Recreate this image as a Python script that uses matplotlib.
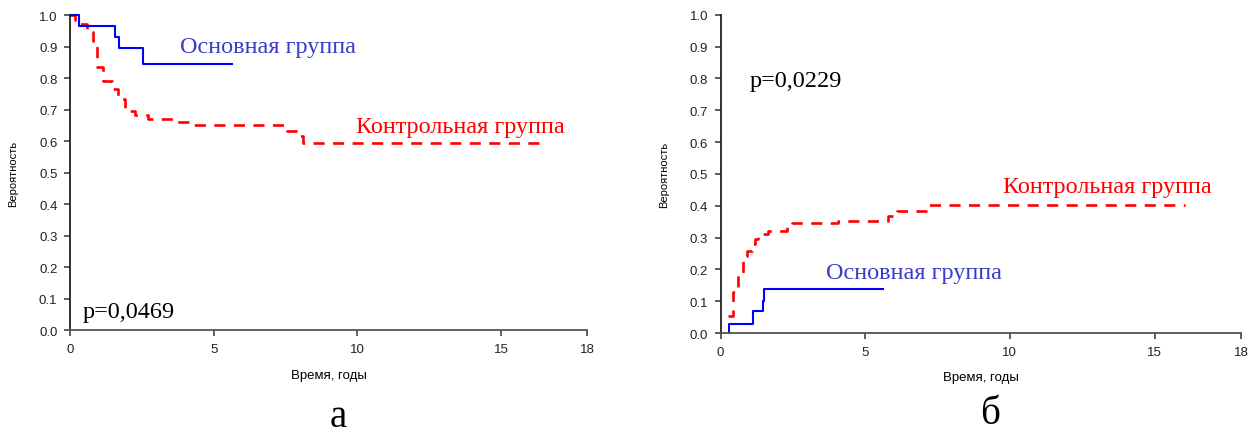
import numpy as np
import matplotlib
matplotlib.use('Agg')
import matplotlib.pyplot as plt

# Кривые Каплана-Мейера, панель а (выживаемость)
a_main_t = [0, 0.31, 1.57, 1.72, 2.55, 5.63]
a_main_s = [1.0, 0.964, 0.931, 0.896, 0.845, 0.845]
a_ctrl_t = [0, 0.17, 0.29, 0.58, 0.81, 0.93, 1.16, 1.45, 1.68, 1.91, 2.26, 2.73,
            3.6, 4.3, 7.54, 7.95, 8.12, 16.36]
a_ctrl_s = [1.0, 0.985, 0.971, 0.945, 0.919, 0.834, 0.792, 0.765, 0.734, 0.697, 0.683, 0.672,
            0.662, 0.651, 0.633, 0.617, 0.594, 0.594]

# Панель б (кумулятивная частота событий)
b_main_t = [0.29, 0.29, 1.13, 1.46, 1.51, 5.62]
b_main_s = [0.0, 0.03, 0.07, 0.101, 0.138, 0.138]
b_ctrl_t = [0.27, 0.44, 0.61, 0.79, 0.9, 1.08, 1.19, 1.31, 1.65, 2.29, 2.46,
            4.07, 5.8, 6.09, 7.18, 16.04]
b_ctrl_s = [0.054, 0.128, 0.19, 0.243, 0.259, 0.28, 0.295, 0.311, 0.321, 0.332, 0.345,
            0.353, 0.368, 0.384, 0.403, 0.403]

x_ticks = [0, 5, 10, 15, 18]
y_ticks = np.round(np.arange(0, 1.01, 0.1), 1)

sans = 'Liberation Sans'
serif = 'Liberation Serif'
blue_txt = '#3c3cc8'

fig = plt.figure(figsize=(12.56, 4.35), dpi=100)
ax_a = fig.add_axes([0.0557, 0.238, 0.412, 0.725])
ax_b = fig.add_axes([0.5737, 0.232, 0.4146, 0.732])


def style(ax):
    ax.set_xlim(0, 18)
    ax.set_ylim(0, 1)
    ax.set_xticks(x_ticks)
    ax.set_xticklabels([str(t) for t in x_ticks], fontfamily=sans, fontsize=9.5)
    ax.set_yticks(y_ticks)
    ax.set_yticklabels([f'{v:.1f}' for v in y_ticks], fontfamily=sans, fontsize=9.5)
    for side in ('top', 'right'):
        ax.spines[side].set_visible(False)
    ax.spines['left'].set_color('#222222')
    ax.spines['left'].set_linewidth(1.3)
    ax.spines['bottom'].set_color('#555555')
    ax.spines['bottom'].set_linewidth(1.3)
    ax.tick_params(direction='out', length=4, width=1.1, color='#333333',
                   labelcolor='#222222', pad=5)
    ax.set_xlabel('Время, годы', fontfamily=sans, fontsize=9.5, labelpad=10)
    ax.set_ylabel('Вероятность', fontfamily=sans, fontsize=8, labelpad=15)


def curves(ax, mt, ms, ct, cs):
    ax.plot(ct, cs, drawstyle='steps-post', color='red', lw=1.9,
            dashes=(4.2, 3.2), clip_on=False)
    ax.plot(mt, ms, drawstyle='steps-post', color='blue', lw=1.5, clip_on=False)


curves(ax_a, a_main_t, a_main_s, a_ctrl_t, a_ctrl_s)
curves(ax_b, b_main_t, b_main_s, b_ctrl_t, b_ctrl_s)
style(ax_a)
style(ax_b)

ann = 17.5
ax_a.text(3.83, 0.899, 'Основная группа', color=blue_txt, fontfamily=serif,
          fontsize=ann, va='center', ha='left')
ax_a.text(9.95, 0.648, 'Контрольная группа', color='red', fontfamily=serif,
          fontsize=ann, va='center', ha='left')
ax_a.text(0.44, 0.059, 'p=0,0469', color='black', fontfamily=serif,
          fontsize=ann, va='center', ha='left')

ax_b.text(3.63, 0.19, 'Основная группа', color=blue_txt, fontfamily=serif,
          fontsize=ann, va='center', ha='left')
ax_b.text(9.77, 0.46, 'Контрольная группа', color='red', fontfamily=serif,
          fontsize=ann, va='center', ha='left')
ax_b.text(1.02, 0.793, 'p=0,0229', color='black', fontfamily=serif,
          fontsize=ann, va='center', ha='left')

fig.text(338 / 1256, 1 - 418 / 435, 'а', fontfamily=serif, fontsize=28,
         ha='center', va='center')
fig.text(990 / 1256, 1 - 415 / 435, 'б', fontfamily=serif, fontsize=28,
         ha='center', va='center')

fig.savefig('out.png', dpi=100)
